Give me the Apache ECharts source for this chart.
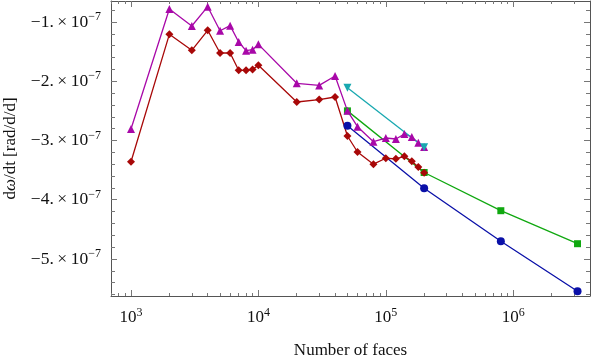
<!DOCTYPE html>
<html>
<head>
<meta charset="utf-8">
<script src="https://cdn.jsdelivr.net/npm/echarts@6/dist/echarts.min.js"></script>
<style>
html,body{margin:0;padding:0;background:#fff;}
#c{width:591px;height:356px;}
</style>
</head>
<body>
<div id="c"></div>
<script>
// ---- data ----
const facesA = [1000,2000,3000,4000,5000,6000,7000,8000,9000,10000,20000,30000,40000,50000,60000,80000,100000,120000,140000,160000,180000,200000];
const purpleVals = [-2.806e-7,-0.78e-7,-1.068e-7,-0.742e-7,-1.147e-7,-1.062e-7,-1.338e-7,-1.484e-7,-1.467e-7,-1.377e-7,-2.035e-7,-2.07e-7,-1.911e-7,-2.50e-7,-2.767e-7,-3.02e-7,-2.958e-7,-2.975e-7,-2.89e-7,-2.94e-7,-3.04e-7,-3.11e-7];
const redVals = [-3.358e-7,-1.208e-7,-1.478e-7,-1.14e-7,-1.523e-7,-1.523e-7,-1.815e-7,-1.815e-7,-1.80e-7,-1.73e-7,-2.35e-7,-2.31e-7,-2.266e-7,-2.924e-7,-3.194e-7,-3.40e-7,-3.30e-7,-3.31e-7,-3.267e-7,-3.35e-7,-3.447e-7,-3.543e-7];
const facesCyan = [50000,200000];
const cyanVals = [-2.11e-7,-3.115e-7];
const facesB = [50000,200000,800000,3200000];
const greenVals = [-2.50e-7,-3.54e-7,-4.185e-7,-4.742e-7];
const blueVals = [-2.75e-7,-3.807e-7,-4.70e-7,-5.545e-7];

const xMajorTicks = [1e3,1e4,1e5,1e6];
const xMinorTicks = [700,800,900,2000,3000,4000,5000,6000,7000,8000,9000,20000,30000,40000,50000,60000,70000,80000,90000,200000,300000,400000,500000,600000,700000,800000,900000,2000000,3000000];
const yMajorTicks = [-5e-7,-4e-7,-3e-7,-2e-7,-1e-7];
const yMinorTicks = [-5.6e-7,-5.4e-7,-5.2e-7,-4.8e-7,-4.6e-7,-4.4e-7,-4.2e-7,-3.8e-7,-3.6e-7,-3.4e-7,-3.2e-7,-2.8e-7,-2.6e-7,-2.4e-7,-2.2e-7,-1.8e-7,-1.6e-7,-1.4e-7,-1.2e-7,-0.8e-7];

const xMin = 696.6, xMax = 4.009e6;
const yMin = -5.6246e-7, yMax = -0.6456e-7;

const FONT = 'Liberation Serif';
const frameColor = '#555';
const tickColor = '#777';

function pairs(xs, ys){ return xs.map((x,i)=>[x, ys[i]]); }

function xAxisDef(pos, ticks, len, showLine, labels){
  return {
    type:'log', logBase:10, position:pos, min:xMin, max:xMax,
    axisLine:{show:showLine, lineStyle:{color:frameColor, width:1}},
    axisTick:{show:true, inside:true, length:len, customValues:ticks, lineStyle:{color:tickColor}},
    axisLabel: labels ? {
      show:true, customValues:xMajorTicks, margin:11,
      formatter: v => '{b|10}{s|' + Math.round(Math.log10(v)) + '}',
      rich:{ b:{fontFamily:FONT, fontSize:17, color:'#111'}, s:{fontFamily:FONT, fontSize:12, color:'#111', padding:[0,0,9,0]} }
    } : {show:false},
    splitLine:{show:false}, minorTick:{show:false}
  };
}
function yAxisDef(pos, ticks, len, showLine, labels){
  return {
    type:'value', position:pos, min:yMin, max:yMax,
    axisLine:{show:showLine, onZero:false, lineStyle:{color:frameColor, width:1}},
    axisTick:{show:true, inside:true, length:len, customValues:ticks, lineStyle:{color:tickColor}},
    axisLabel: labels ? {
      show:true, customValues:yMajorTicks, margin:10,
      formatter: v => '{b|\u2212' + Math.abs(Math.round(v*1e7)) + '.\u2009\u00d7\u200910}{s|\u22127}',
      rich:{ b:{fontFamily:FONT, fontSize:17.5, color:'#111'}, s:{fontFamily:FONT, fontSize:12, color:'#111', padding:[0,0,10,0]} }
    } : {show:false},
    splitLine:{show:false}
  };
}

const xs = [xAxisDef('bottom', xMajorTicks, 6, true, true), xAxisDef('bottom', xMinorTicks, 3, false, false),
            xAxisDef('top', xMajorTicks, 6, true, false), xAxisDef('top', xMinorTicks, 3, false, false)];
xs[0].name = 'Number of faces';
xs[0].nameLocation = 'middle';
xs[0].nameGap = 46;
xs[0].nameTextStyle = {fontFamily:FONT, fontSize:17, color:'#111'};
const ys = [yAxisDef('left', yMajorTicks, 6, true, true), yAxisDef('left', yMinorTicks, 4, false, false),
            yAxisDef('right', yMajorTicks, 6, true, false), yAxisDef('right', yMinorTicks, 4, false, false)];
ys[0].name = '{n|d}{i|\u03c9}{n|/dt [rad/d/d]}';
ys[0].nameLocation = 'middle';
ys[0].nameRotate = 90;
ys[0].nameGap = 92;
ys[0].nameTextStyle = {rich:{n:{fontFamily:FONT, fontSize:17, color:'#111'}, i:{fontFamily:FONT, fontSize:17, fontStyle:'italic', color:'#111'}}};

function ser(name, xsArr, ysArr, color, symbol, size, rot){
  return {
    name, type:'line', xAxisIndex:0, yAxisIndex:0, data:pairs(xsArr, ysArr),
    symbol, symbolSize:size, symbolRotate:rot||0, showSymbol:true,
    lineStyle:{color, width:1.3}, itemStyle:{color}, animation:false, z:3
  };
}

const chart = echarts.init(document.getElementById('c'), null, {renderer:'canvas'});
chart.setOption({
  animation:false,
  backgroundColor:'#fff',
  grid:{left:111, right:1, top:1, bottom:60, containLabel:false, outerBoundsMode:'none'},
  xAxis: xs,
  yAxis: ys,
  series:[
    ser('blue', facesB, blueVals, '#0a10a8', 'circle', 8),
    ser('green', facesB, greenVals, '#10a810', 'rect', 7),
    ser('red', facesA, redVals, '#a80808', 'diamond', 8),
    ser('purple', facesA, purpleVals, '#a808a8', 'triangle', 8),
    ser('cyan', facesCyan, cyanVals, '#18a8b0', 'triangle', 8, 180)
  ]
});
</script>
</body>
</html>
